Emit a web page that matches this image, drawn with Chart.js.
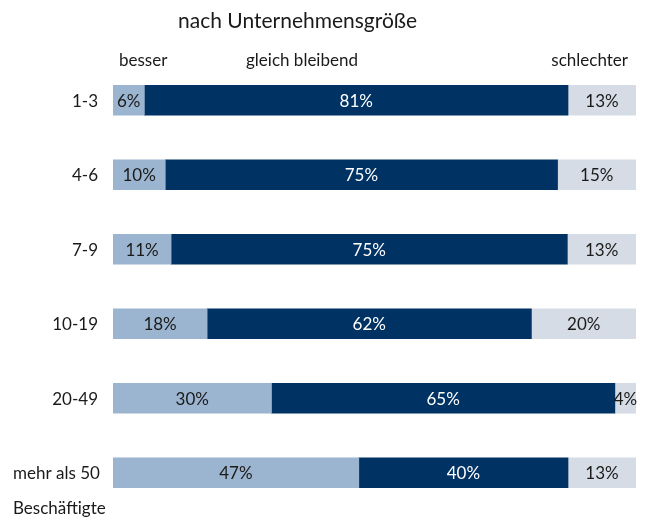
<!DOCTYPE html>
<html>
<head>
<meta charset="utf-8">
<script src="https://cdn.jsdelivr.net/npm/chart.js@4"></script>
<style>
  html, body { margin: 0; padding: 0; background: #ffffff; }
  #wrap { width: 645px; height: 529px; position: relative; }
</style>
</head>
<body>
<div id="wrap"><canvas id="sizeChart"></canvas></div>
<script>
// Betriebsgrößen-Chart: besser / gleich bleibend / schlechter
const chartTitle = 'nach Unternehmensgröße';
const categories = ['1-3', '4-6', '7-9', '10-19', '20-49', ['mehr als 50', 'Beschäftigte']];
const seriesNames = ['besser', 'gleich bleibend', 'schlechter'];
const besser = [6, 10, 11, 18, 30, 47];
const gleich = [81, 75, 75, 62, 65, 40];
const schlechter = [13, 15, 13, 20, 4, 13];

const colors = {
  besser: '#9bb4cf',
  gleich: '#003264',
  schlechter: '#d5dce5',
  text: '#1a1a1a'
};
const FONT = 'Lato, "Open Sans", sans-serif';

// rows are drawn as 100% bars, so normalise each row by its sum
const rowSum = besser.map((v, i) => v + gleich[i] + schlechter[i]);
const norm = (arr) => arr.map((v, i) => v / rowSum[i] * 100);

const labelPlugin = {
  id: 'labels',
  afterDatasetsDraw(chart) {
    const ctx = chart.ctx;
    const yScale = chart.scales.y;
    ctx.save();
    ctx.font = '17px ' + FONT;
    ctx.textBaseline = 'middle';

    // values inside the segments
    chart.data.datasets.forEach((ds, di) => {
      const meta = chart.getDatasetMeta(di);
      meta.data.forEach((bar, i) => {
        const x = (bar.x + bar.base) / 2;
        ctx.fillStyle = di === 1 ? '#ffffff' : colors.text;
        ctx.textAlign = 'center';
        ctx.fillText(ds.raw[i] + '%', x, bar.y + 1);
      });
    });

    // category labels
    ctx.fillStyle = colors.text;
    categories.forEach((c, i) => {
      const y = yScale.getPixelForValue(i) + 1;
      if (Array.isArray(c)) {
        ctx.textAlign = 'left';
        c.forEach((line, li) => ctx.fillText(line, 13, y + li * 35));
      } else {
        ctx.textAlign = 'right';
        ctx.fillText(c, 98, y);
      }
    });

    // column headers
    const top = 61;
    ctx.textAlign = 'left';
    ctx.fillText(seriesNames[0], 119, top);
    ctx.fillText(seriesNames[1], 246, top);
    ctx.textAlign = 'right';
    ctx.fillText(seriesNames[2], 628, top);

    // title
    ctx.font = '21px ' + FONT;
    ctx.textAlign = 'left';
    ctx.fillText(chartTitle, 178, 21);
    ctx.restore();
  }
};

new Chart(document.getElementById('sizeChart'), {
  type: 'bar',
  data: {
    labels: categories,
    datasets: [
      { label: seriesNames[0], data: norm(besser), raw: besser, backgroundColor: colors.besser },
      { label: seriesNames[1], data: norm(gleich), raw: gleich, backgroundColor: colors.gleich },
      { label: seriesNames[2], data: norm(schlechter), raw: schlechter, backgroundColor: colors.schlechter }
    ]
  },
  options: {
    indexAxis: 'y',
    responsive: true,
    maintainAspectRatio: false,
    animation: false,
    barThickness: 30,
    borderSkipped: false,
    layout: { padding: { left: 113, right: 9, top: 63, bottom: 19 } },
    plugins: {
      legend: { display: false },
      tooltip: { enabled: false }
    },
    scales: {
      x: { stacked: true, min: 0, max: 100, display: false },
      y: { stacked: true, display: false }
    }
  },
  plugins: [labelPlugin]
});
</script>
</body>
</html>
